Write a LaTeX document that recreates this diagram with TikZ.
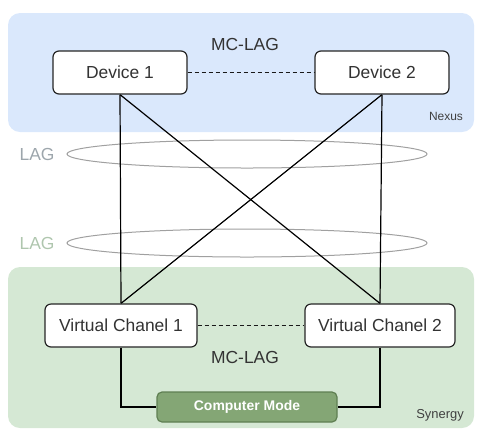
\documentclass[tikz,border=0pt]{standalone}
\usepackage{fontspec}
\setmainfont{Liberation Sans}
\usetikzlibrary{shapes.geometric}
\pgfdeclarelayer{bg}
\pgfdeclarelayer{mid}
\pgfsetlayers{bg,mid,main}
\definecolor{nexusbg}{HTML}{DAE8FC}
\definecolor{synbg}{HTML}{D5E8D4}
\definecolor{cmfill}{HTML}{84A675}
\definecolor{cmdraw}{HTML}{5F7F52}
\definecolor{lagring}{HTML}{A0A0A0}
\definecolor{lagblue}{HTML}{9DA6AC}
\definecolor{laggreen}{HTML}{AFC6AE}
\definecolor{smalltxt}{HTML}{404040}
\tikzset{
  region/.style={rounded corners=12bp, draw=none},
  devbox/.style={draw=black!85, line width=1.2bp, fill=white, rounded corners=6bp,
    inner sep=0pt, font=\fontsize{17.5}{20}\selectfont, text=black!80},
  cmbox/.style={draw=cmdraw, line width=1.2bp, fill=cmfill, rounded corners=5bp,
    minimum width=180bp, minimum height=30bp, inner sep=0pt,
    font=\bfseries\fontsize{14}{16}\selectfont, text=white},
  lagring/.style={ellipse, draw=lagring, line width=1bp, minimum width=360bp,
    minimum height=28bp, inner sep=0pt},
  link/.style={draw=black, line width=1.2bp},
  peer/.style={draw=black!90, line width=1.2bp, dash pattern=on 4bp off 3bp},
  lbl/.style={font=\fontsize{17.5}{20}\selectfont, text=black!80, inner sep=0pt},
  tag/.style={font=\fontsize{12}{14}\selectfont, text=smalltxt, inner sep=0pt}
}
\begin{document}
\begin{tikzpicture}[x=1bp,y=-1bp]
\useasboundingbox (0,0) rectangle (478,432);
% devices and boxes
\node[devbox, minimum width=134bp, minimum height=43bp] (d1) at (120,72.5) {Device 1};
\node[devbox, minimum width=134bp, minimum height=43bp] (d2) at (382,72.5) {Device 2};
\node[devbox, minimum width=152bp, minimum height=43bp] (v1) at (121,325.5) {Virtual Chanel 1};
\node[devbox, minimum width=150bp, minimum height=43bp] (v2) at (380,325.5) {Virtual Chanel 2};
\node[cmbox] (cm) at (247,407) {Computer Mode};
% labels
\node[lbl] (mctop) at (245,44) {MC-LAG};
\node[lbl] (mcbot) at (245,357) {MC-LAG};
\node[tag] (nexus) at (446,116) {Nexus};
\node[tag, font=\fontsize{13}{15}\selectfont] (syn) at (440,415) {Synergy};
\node[lbl, text=lagblue] (lag1t) at (37,154) {LAG};
\node[lbl, text=laggreen] (lag2t) at (37,243) {LAG};
% regions
\begin{pgfonlayer}{bg}
\fill[region, nexusbg] (8,13) rectangle (474,132);
\fill[region, synbg] (8,267) rectangle (474,428);
\end{pgfonlayer}
% rings and connectors
\begin{pgfonlayer}{mid}
\node[lagring] (lag1) at (247,154) {};
\node[lagring] (lag2) at (247,243) {};
\draw[link] (d1.south) -- (v1.north);
\draw[link] (d2.south) -- (v2.north);
\draw[link] (d1.south) -- (v2.north);
\draw[link] (d2.south) -- (v1.north);
\draw[link] (v1.south) |- (cm.west);
\draw[link] (v2.south) |- (cm.east);
\draw[peer] (d1.east) -- (d2.west);
\draw[peer] (v1.east) -- (v2.west);
\end{pgfonlayer}
\end{tikzpicture}
\end{document}
